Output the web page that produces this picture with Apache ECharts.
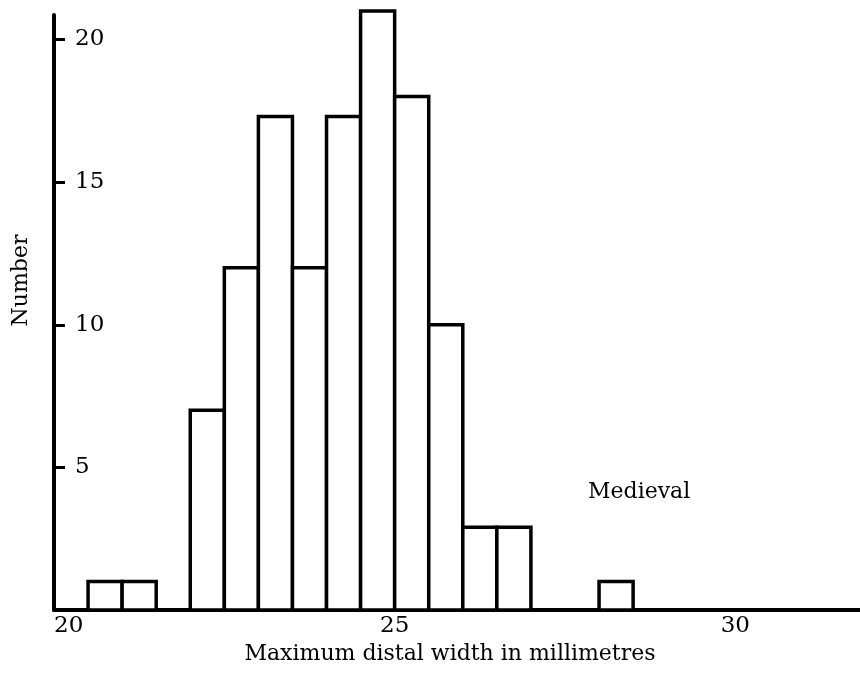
<!DOCTYPE html>
<html>
<head>
<meta charset="utf-8">
<script src="https://cdn.jsdelivr.net/npm/echarts@6/dist/echarts.min.js"></script>
<style>
  html, body { margin: 0; padding: 0; background: #fff; }
  #chart { width: 860px; height: 678px; }
</style>
</head>
<body>
<div id="chart"></div>
<script>
// Histogram bins: lower edge of each occupied 0.5 mm class and its count
const binStarts = [20.5, 21.0, 22.0, 22.5, 23.0, 23.5, 24.0, 24.5, 25.0, 25.5, 26.0, 26.5, 28.0];
const counts    = [1,    1,    7,    12,   17.3, 12,   17.3, 21,   18,   10,   2.9,  2.9,  1];
const binWidth = 0.5;

const xTickValues = [20, 25, 30];
const yTickValues = [5, 10, 15, 20];

const xTitle = 'Maximum distal width in millimetres';
const yTitle = 'Number';
const groupLabel = 'Medieval';

const FONT = '"DejaVu Serif", "Liberation Serif", serif';

const chart = echarts.init(document.getElementById('chart'));

const barData = binStarts.map((s, i) => [s, s + binWidth, counts[i]]);

chart.setOption({
  animation: false,
  backgroundColor: '#fff',
  grid: { left: 54, right: 0, top: 15, bottom: 68 },
  xAxis: {
    type: 'value',
    min: 20,
    max: 31.83,
    name: xTitle,
    nameLocation: 'middle',
    nameGap: 26,
    nameTextStyle: { fontFamily: FONT, fontSize: 22, color: '#000', padding: [0, 14, 0, 0] },
    axisLine: { show: true, lineStyle: { color: '#000', width: 4 } },
    axisTick: { show: false },
    splitLine: { show: false },
    axisLabel: {
      customValues: xTickValues,
      alignMinLabel: 'left',
      margin: 5,
      fontFamily: FONT,
      fontSize: 23,
      color: '#000'
    }
  },
  yAxis: {
    type: 'value',
    min: 0,
    max: 20.86,
    name: yTitle,
    nameLocation: 'middle',
    nameRotate: 90,
    nameGap: 22,
    nameTextStyle: { fontFamily: FONT, fontSize: 22, color: '#000', padding: [0, 0, 0, 64] },
    axisLine: { show: true, lineStyle: { color: '#000', width: 4 } },
    axisTick: { show: true, inside: true, length: 11, customValues: yTickValues, lineStyle: { color: '#000', width: 3 } },
    splitLine: { show: false },
    axisLabel: {
      inside: true,
      customValues: yTickValues,
      margin: 21,
      fontFamily: FONT,
      fontSize: 23,
      color: '#000'
    }
  },
  graphic: [{
    type: 'text',
    left: 588,
    top: 481,
    style: { text: groupLabel, font: '22px ' + FONT, fill: '#000' }
  }],
  series: [{
    type: 'custom',
    clip: false,
    data: barData,
    encode: { x: [0, 1], y: 2 },
    renderItem: function (params, api) {
      const p0 = api.coord([api.value(0), 0]);
      const p1 = api.coord([api.value(1), api.value(2)]);
      return {
        type: 'rect',
        shape: { x: p0[0], y: p1[1], width: p1[0] - p0[0], height: p0[1] - p1[1] },
        style: { fill: '#fff', stroke: '#000', lineWidth: 3.5 }
      };
    }
  }]
});
</script>
</body>
</html>
